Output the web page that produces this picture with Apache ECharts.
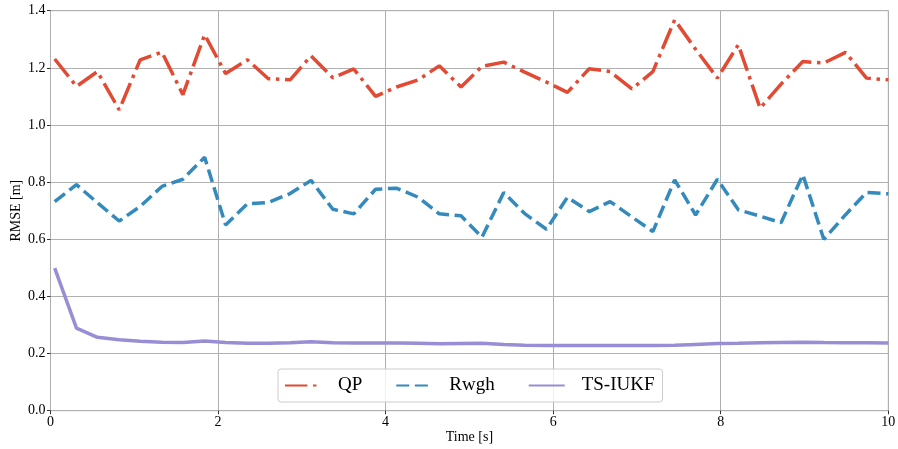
<!DOCTYPE html>
<html>
<head>
<meta charset="utf-8">
<script src="https://cdn.jsdelivr.net/npm/echarts@6/dist/echarts.min.js"></script>
<style>
  html, body { margin: 0; padding: 0; background: #fff; }
  #chart { width: 898px; height: 449px; }
</style>
</head>
<body>
<div id="chart"></div>
<script>
// 샘플 시각 [s]
const times = [0.05, 0.31, 0.56, 0.82, 1.07, 1.33, 1.58, 1.84, 2.09, 2.35,
  2.60, 2.86, 3.11, 3.37, 3.62, 3.88, 4.13, 4.39, 4.64, 4.90,
  5.15, 5.41, 5.66, 5.92, 6.17, 6.43, 6.68, 6.94, 7.19, 7.45,
  7.70, 7.96, 8.21, 8.47, 8.72, 8.98, 9.23, 9.49, 9.74, 10.00];

// RMSE 값
const qp = [1.231, 1.135, 1.187, 1.053, 1.228, 1.255, 1.106, 1.316, 1.180, 1.228,
  1.162, 1.158, 1.242, 1.165, 1.196, 1.100, 1.133, 1.158, 1.207, 1.133,
  1.205, 1.220, 1.185, 1.150, 1.114, 1.197, 1.187, 1.126, 1.187, 1.368,
  1.265, 1.164, 1.281, 1.059, 1.143, 1.222, 1.217, 1.254, 1.164, 1.158];

const rwgh = [0.732, 0.791, 0.728, 0.664, 0.715, 0.785, 0.810, 0.887, 0.650, 0.724,
  0.729, 0.760, 0.806, 0.705, 0.689, 0.775, 0.779, 0.747, 0.689, 0.682,
  0.607, 0.764, 0.690, 0.635, 0.747, 0.697, 0.732, 0.678, 0.627, 0.808,
  0.685, 0.810, 0.703, 0.681, 0.658, 0.826, 0.600, 0.686, 0.764, 0.759];

const tsIukf = [0.499, 0.289, 0.257, 0.248, 0.243, 0.240, 0.239, 0.244, 0.239, 0.236,
  0.236, 0.238, 0.241, 0.238, 0.237, 0.237, 0.237, 0.236, 0.234, 0.235,
  0.236, 0.232, 0.229, 0.228, 0.228, 0.228, 0.228, 0.228, 0.228, 0.229,
  0.232, 0.235, 0.236, 0.238, 0.239, 0.240, 0.239, 0.238, 0.238, 0.237];

const FONT = '"Liberation Serif", "DejaVu Serif", serif';
const LW = 3.5;

const pair = arr => times.map((t, i) => [t, arr[i]]);

function lineSeries(name, data, color, dash) {
    return {
        name: name,
        type: 'line',
        data: pair(data),
        showSymbol: false,
        symbol: 'none',
        animation: false,
        itemStyle: { color: color },
        lineStyle: { color: color, width: LW, type: dash, cap: 'butt' }
    };
}

const chart = echarts.init(document.getElementById('chart'));

chart.setOption({
    animation: false,
    textStyle: { fontFamily: FONT },
    grid: {
        left: 50.5, right: 9.7, top: 10.7, bottom: 38.3,
        containLabel: false,
        outerBoundsMode: 'none',
        show: true, borderColor: '#b0b0b0', borderWidth: 1
    },
    legend: {
        bottom: 47,
        left: 278,
        padding: [7, 8, 7, 6],
        itemWidth: 36,
        itemHeight: 4,
        itemGap: 33,
        backgroundColor: 'rgba(255,255,255,0.8)',
        borderColor: '#cccccc',
        borderWidth: 1,
        borderRadius: 3,
        itemStyle: { opacity: 0 },
        textStyle: { fontFamily: FONT, fontSize: 19, color: '#000', padding: [0, 0, 0, 12] },
        data: ['QP', 'Rwgh', 'TS-IUKF']
    },
    xAxis: {
        type: 'value',
        min: 0, max: 10, interval: 2,
        name: 'Time [s]',
        nameLocation: 'middle',
        nameGap: 20,
        nameMoveOverlap: false,
        nameTextStyle: { fontFamily: FONT, fontSize: 14, color: '#000' },
        axisLine: { show: true, lineStyle: { color: '#b0b0b0', width: 1 } },
        axisTick: { show: true, length: 3.5, lineStyle: { color: '#333' } },
        axisLabel: { fontFamily: FONT, fontSize: 14, color: '#000', margin: 5 },
        splitLine: { show: true, lineStyle: { color: '#b0b0b0', width: 1 } }
    },
    yAxis: {
        type: 'value',
        min: 0, max: 1.4, interval: 0.2,
        name: 'RMSE [m]',
        nameLocation: 'middle',
        nameGap: 27,
        nameMoveOverlap: false,
        nameTextStyle: { fontFamily: FONT, fontSize: 14, color: '#000' },
        axisLine: { show: true, lineStyle: { color: '#b0b0b0', width: 1 } },
        axisTick: { show: true, length: 3.5, lineStyle: { color: '#333' } },
        axisLabel: {
            fontFamily: FONT, fontSize: 14, color: '#000', margin: 5,
            formatter: v => v.toFixed(1)
        },
        splitLine: { show: true, lineStyle: { color: '#b0b0b0', width: 1 } }
    },
    series: [
        lineSeries('QP', qp, '#E24A33', [22.4, 5.6, 3.5, 5.6]),
        lineSeries('Rwgh', rwgh, '#348ABD', [13, 5.6]),
        lineSeries('TS-IUKF', tsIukf, '#988ED5', 'solid')
    ]
});
</script>
</body>
</html>
